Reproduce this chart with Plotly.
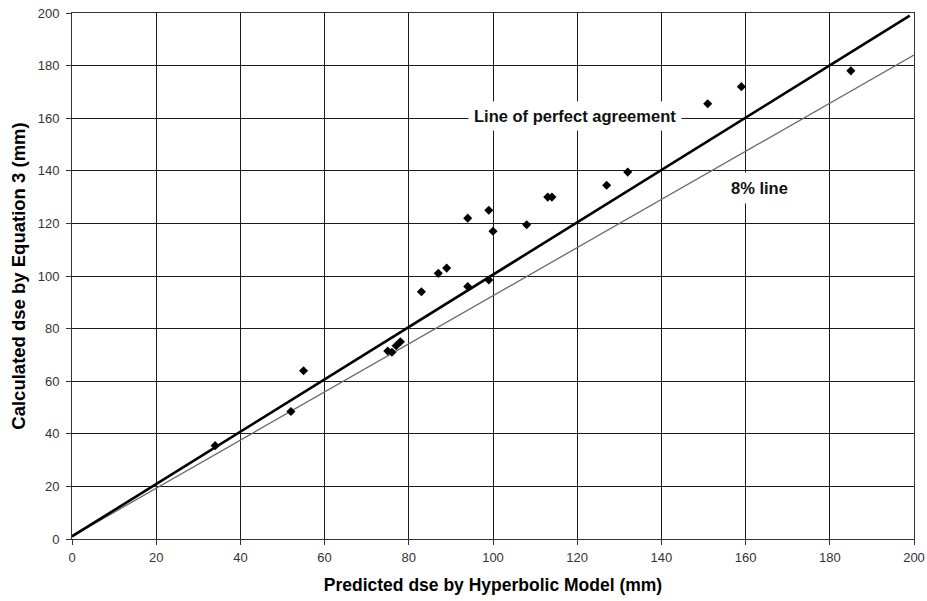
import plotly.graph_objects as go

# measured points (Hyperbolic model vs Equation 3)
pred_x = [34, 52, 55, 75, 76, 77, 78, 83, 87, 89, 94, 94, 99, 99, 100, 108, 113, 114, 127, 132, 151, 159, 185]
calc_y = [35.5, 48.5, 64, 71.5, 71, 73.5, 75, 94, 101, 103, 122, 96, 125, 98.5, 117, 119.5, 130, 130, 134.5, 139.5, 165.5, 172, 178]

# reference lines
perfect_x = [0, 199]
perfect_y = [1, 199]
eight_x = [0, 200]
eight_y = [1, 184]

tick_vals = list(range(0, 201, 20))

FONT = "Liberation Sans, Arial"

fig = go.Figure()

fig.add_trace(go.Scatter(x=eight_x, y=eight_y, mode="lines",
                         line=dict(color="#6a6a6a", width=1.3), showlegend=False))
fig.add_trace(go.Scatter(x=perfect_x, y=perfect_y, mode="lines",
                         line=dict(color="black", width=2.6), showlegend=False))
fig.add_trace(go.Scatter(x=pred_x, y=calc_y, mode="markers",
                         marker=dict(symbol="diamond", color="black", size=7), showlegend=False))

# labels with white box over the grid
fig.add_annotation(x=119.5, y=161, text="<b>Line of perfect agreement</b>", showarrow=False,
                   font=dict(family=FONT, size=16.5, color="#111"),
                   bgcolor="white", borderpad=5)
fig.add_annotation(x=163.2, y=133.3, text="<b>8% line</b>", showarrow=False,
                   font=dict(family=FONT, size=16.5, color="#111"),
                   bgcolor="white", borderpad=6)

axis_common = dict(
    range=[0, 200], tickvals=tick_vals, showgrid=True, gridcolor="#1a1a1a", gridwidth=1,
    showline=True, linecolor="#333", linewidth=1, mirror=True, zeroline=False,
    ticks="outside", ticklen=5, tickcolor="#333", automargin=False,
    tickfont=dict(family=FONT, size=13, color="#333"),
)

fig.update_xaxes(**axis_common, ticklabelstandoff=1,
                 title=dict(text="<b>Predicted dse by Hyperbolic Model (mm)</b>",
                            font=dict(family=FONT, size=17.5, color="black"),
                            standoff=15))
fig.update_yaxes(**axis_common, ticklabelstandoff=4,
                 title=dict(text="<b>Calculated dse by Equation 3 (mm)</b>",
                            font=dict(family=FONT, size=18.5, color="black"),
                            standoff=7))

fig.update_layout(
    width=927, height=601,
    margin=dict(l=72, r=13, t=13, b=62),
    plot_bgcolor="white", paper_bgcolor="white",
)

# page body has a default 8px margin; drop it so the figure fills the window
fig.write_html("out.html", config={"displayModeBar": False},
               post_script="document.body.style.margin='0';")
